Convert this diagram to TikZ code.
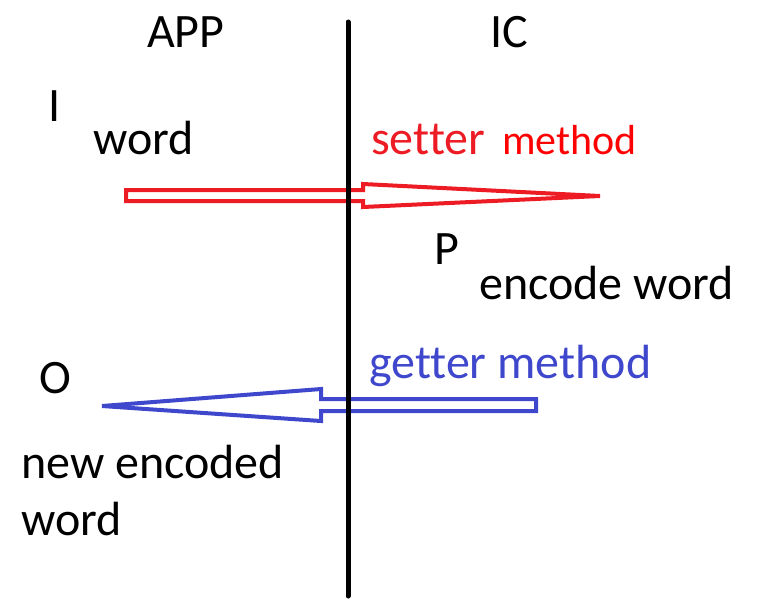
\documentclass[tikz,border=0pt]{standalone}
\usepackage{fontspec}
\setmainfont{Carlito}[Ligatures=NoCommon]
\usetikzlibrary{positioning,calc}
\definecolor{setred}{HTML}{ED1C24}
\definecolor{getblue}{HTML}{3F48CC}

\begin{document}
\begin{tikzpicture}[x=1pt, y=-1pt,
  lbl/.style={anchor=base west, inner sep=0pt, font=\fontsize{48}{56}\selectfont},
  hollow/.style={line width=4pt, line join=miter},
]
  \useasboundingbox (0,0) rectangle (768,614);

  % column heads
  \node[lbl] (app) at (147,47) {APP};
  \node[lbl] (ic) at (490,47) {IC};

  % app side
  \node[lbl] (in) at (48,121) {I};
  \node[lbl] (inword) at (93,154) {word};
  \node[lbl] (out) at (39,393) {O};
  \node[lbl] (newenc) at (21,478) {new encoded};
  \node[lbl] (newword) at (21,535) {word};

  % ic side
  \node[lbl, text=setred] (setter) at (371,154) {setter};
  \node[lbl, font=\fontsize{42}{48}\selectfont, text=red] (setmeth) at (502,154) {method};
  \node[lbl] (proc) at (434,264) {P};
  \node[lbl] (encword) at (479,299) {encode word};
  \node[lbl, text=getblue] (getter) at (369,378) {getter method};

  % hollow arrows
  \draw[hollow, setred] (126,190) -- (363,190) -- (363,184) -- (600,196)
    -- (363,207) -- (363,201) -- (126,201) -- cycle;
  \draw[hollow, getblue] (536,399) -- (321,399) -- (321,389) -- (102,406)
    -- (321,421) -- (321,411) -- (536,411) -- cycle;

  % divider
  \coordinate (top) at (348,22);
  \coordinate (bot) at (348,596);
  \draw[line width=5pt, line cap=round] (top) -- (bot);
\end{tikzpicture}
\end{document}
